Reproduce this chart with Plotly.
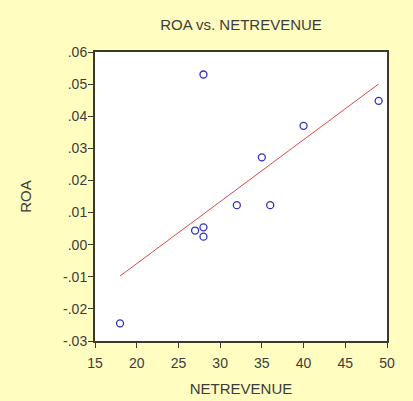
import numpy as np
import plotly.graph_objects as go

# Data
netrevenue = [18, 27, 28, 28, 28, 32, 35, 36, 40, 49]
roa = [-0.0245, 0.0044, 0.0054, 0.0025, 0.053, 0.0123, 0.0272, 0.0123, 0.037, 0.0448]

x_tickvals = [15, 20, 25, 30, 35, 40, 45, 50]
y_tickvals = [-0.03, -0.02, -0.01, 0.00, 0.01, 0.02, 0.03, 0.04, 0.05, 0.06]
y_ticktext = ["-.03", "-.02", "-.01", ".00", ".01", ".02", ".03", ".04", ".05", ".06"]

# Regression fit
slope, intercept = np.polyfit(netrevenue, roa, 1)
fit_x = [min(netrevenue), max(netrevenue)]
fit_y = [slope * v + intercept for v in fit_x]

bg = "#FFFDC0"
font_col = "#3c3c3c"
fam = "Liberation Sans, Arial, sans-serif"

fig = go.Figure()
fig.add_trace(go.Scatter(
    x=fit_x, y=fit_y, mode="lines",
    line=dict(color="#E04848", width=1),
    showlegend=False, hoverinfo="skip"))
fig.add_trace(go.Scatter(
    x=netrevenue, y=roa, mode="markers",
    marker=dict(symbol="circle-open", size=7, color="#3030C0",
                line=dict(width=1.3, color="#3030C0")),
    showlegend=False))

axis_common = dict(
    automargin=False,
    showgrid=False, zeroline=False,
    showline=True, linecolor="#3a3a2a", linewidth=2, mirror=True,
    ticks="outside", ticklen=5, tickcolor="#3a3a2a", tickwidth=1,
    tickfont=dict(family=fam, size=14, color=font_col),
)

fig.update_layout(
    width=413, height=401,
    paper_bgcolor=bg, plot_bgcolor="white",
    margin=dict(l=95, r=26, t=52, b=60),
    title=dict(text="ROA vs. NETREVENUE", x=0.5, xref="paper", xanchor="center",
               y=0.938, yref="container", yanchor="middle",
               font=dict(family=fam, size=15, color=font_col)),
    xaxis=dict(range=[15, 50], tickvals=x_tickvals, ticklabelstandoff=3,
               title=dict(text="NETREVENUE", standoff=14,
                          font=dict(family=fam, size=15, color=font_col)),
               **axis_common),
    yaxis=dict(range=[-0.03, 0.06], tickvals=y_tickvals, ticktext=y_ticktext,
               ticklabelstandoff=-2,
               title=dict(text="ROA", standoff=28,
                          font=dict(family=fam, size=15, color=font_col)),
               **axis_common),
)

fig.write_html("out.html", config={"displayModeBar": False},
               post_script="document.body.style.margin='0';")
